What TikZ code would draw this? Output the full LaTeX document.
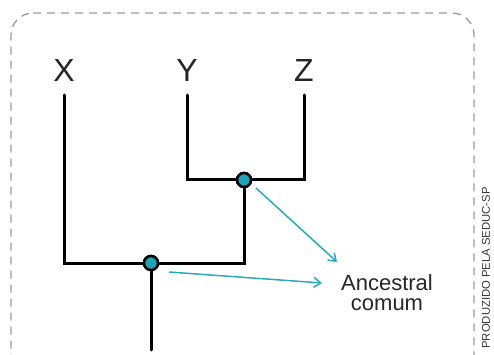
\documentclass[tikz,border=0pt]{standalone}
\usepackage{fontspec}
\setmainfont{Liberation Sans}
\usetikzlibrary{arrows.meta}
\definecolor{teal1}{HTML}{1FA3B5}
\definecolor{teal2}{HTML}{2AA9BA}
\definecolor{frame}{HTML}{9A9A9A}
\begin{document}
\begin{tikzpicture}[x=1pt,y=-1pt,
  branch/.style={line width=3pt,line cap=round,line join=miter},
  anc/.style={circle,draw=black,line width=2.5pt,fill=teal1,minimum size=14pt,inner sep=0pt},
  taxon/.style={font=\fontsize{32}{32}\selectfont,text=black!85,inner sep=0pt},
  pointer/.style={teal2,line width=1.5pt,-{Straight Barb[length=7pt,width=10pt,line width=1.5pt]}},
  lbl/.style={font=\fontsize{22}{20}\selectfont,align=center,text=black!85,inner sep=0pt}]
\useasboundingbox (0,0) rectangle (494,355);
\draw[frame,line width=1.3pt,dash pattern=on 8pt off 6pt,rounded corners=22pt]
  (11,13) -- (474,13) -- (474,380) -- (11,380) -- cycle;
% labels
\node[taxon] (X) at (64,70) {X};
\node[taxon] (Y) at (187,70) {Y};
\node[taxon] (Z) at (304,70) {Z};
% tree
\coordinate (xt) at (64,95);
\coordinate (yt) at (187,95);
\coordinate (zt) at (304,95);
\coordinate (yb) at (187,180);
\coordinate (zb) at (304,180);
\coordinate (xb) at (64,263);
\coordinate (rb) at (244,263);
\coordinate (root) at (151,350);
\node[anc] (n1) at (244,180) {};
\node[anc] (n2) at (151,263) {};
\draw[branch] (yt) -- (yb) -- (zb) -- (zt);
\draw[branch] (n1) -- (rb) -- (xb) -- (xt);
\draw[branch] (n2) -- (root);
\node[anc] at (244,180) {};
\node[anc] at (151,263) {};
% label
\node[lbl] (A) at (387,293) {Ancestral\\comum};
\coordinate (a1s) at (256,188);
\coordinate (a1e) at (337,262);
\coordinate (a2s) at (169,272);
\coordinate (a2e) at (322,283);
\draw[pointer] (a1s) -- (a1e);
\draw[pointer] (a2s) -- (a2e);
% credit
\node[rotate=90,anchor=east,font=\fontsize{11.3}{12}\selectfont,text=black!80,inner sep=0pt] (cr) at (486,187) {PRODUZIDO PELA SEDUC-SP};
\end{tikzpicture}
\end{document}
